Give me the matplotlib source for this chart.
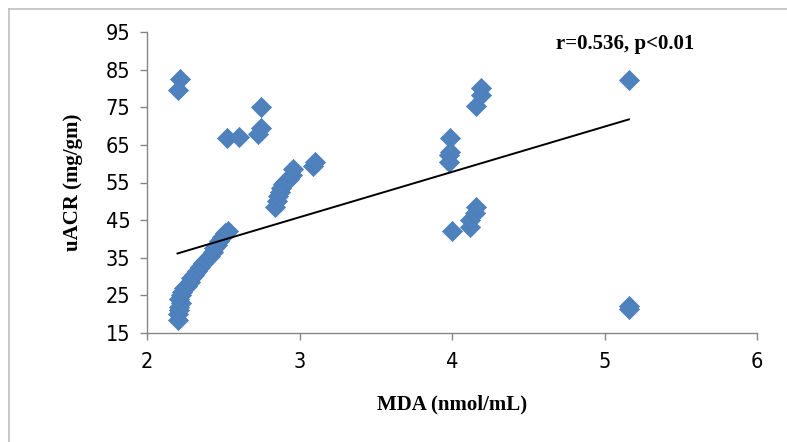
import matplotlib
matplotlib.use("Agg")
import matplotlib.pyplot as plt
from matplotlib.lines import Line2D
import numpy as np

# MDA (x) vs uACR (y)
mda = [
    2.20, 2.20, 2.21, 2.21, 2.22, 2.21, 2.22, 2.23, 2.24, 2.26, 2.28, 2.29, 2.31,
    2.33, 2.35, 2.37, 2.39, 2.41, 2.43, 2.44, 2.46, 2.47, 2.49, 2.51, 2.53,
    2.216, 2.205, 2.525, 2.60, 2.75, 2.75, 2.73,
    2.84, 2.85, 2.86, 2.87, 2.88, 2.89, 2.91, 2.93, 2.95, 2.96, 3.09, 3.10,
    3.99, 3.99, 3.98, 3.98, 4.00,
    4.12, 4.12, 4.15, 4.16, 4.16, 4.19, 4.19,
    5.16, 5.16, 5.16,
]
uacr = [
    18.5, 20.0, 21.0, 22.0, 23.0, 24.0, 25.0, 26.0, 27.0, 27.5, 28.5, 29.5, 30.5,
    31.5, 32.5, 33.5, 34.5, 35.5, 36.5, 37.5, 38.5, 39.5, 40.5, 41.5, 42.0,
    82.5, 79.6, 66.8, 67.2, 75.0, 69.5, 67.8,
    48.5, 50.0, 51.5, 52.5, 53.5, 54.5, 55.5, 56.0, 57.0, 58.5, 59.5, 60.5,
    66.8, 63.2, 62.2, 60.5, 42.2,
    43.2, 45.0, 46.9, 48.5, 75.2, 78.3, 80.0,
    82.3, 22.3, 21.5,
]
# linear trendline as shown in the chart
fit_slope = 12.04
fit_intercept = 9.65

x_ticks = [2, 3, 4, 5, 6]
y_ticks = [15, 25, 35, 45, 55, 65, 75, 85, 95]

fig = plt.figure(figsize=(7.87, 4.42), dpi=100)
ax = fig.add_axes([147 / 787, 1 - 333 / 442, 610 / 787, 301 / 442])

ax.scatter(mda, uacr, marker="D", s=105, color="#4F81BD", edgecolors="#4A7EBB",
           linewidths=0.5, zorder=3)
xs = np.array([min(mda), max(mda)])
ax.plot(xs, fit_slope * xs + fit_intercept, color="black", lw=1.4, zorder=4)

ax.set_xlim(2, 6)
ax.set_ylim(15, 95)
ax.set_xticks(x_ticks)
ax.set_yticks(y_ticks)
for s in ("top", "right"):
    ax.spines[s].set_visible(False)
for s in ("left", "bottom"):
    ax.spines[s].set_color("#868686")
    ax.spines[s].set_linewidth(1.0)
ax.tick_params(axis="both", colors="#868686", length=5, width=1.0, labelcolor="black")
ax.tick_params(axis="y", pad=7)
ax.tick_params(axis="x", pad=9)
for lab in ax.get_xticklabels() + ax.get_yticklabels():
    lab.set_fontfamily("DejaVu Sans")
    lab.set_fontstretch("condensed")
    lab.set_fontsize(15.5)

ax.set_xlabel("MDA (nmol/mL)", fontfamily="Liberation Serif", fontweight="bold",
              fontsize=15, labelpad=16)
ax.set_ylabel("uACR (mg/gm)", fontfamily="Liberation Serif", fontweight="bold",
              fontsize=15, labelpad=16)
fig.text(625 / 787, 1 - 44 / 442, "r=0.536, p<0.01", ha="center", va="center",
         fontfamily="Liberation Serif", fontweight="bold", fontsize=15)

# outer chart-area border
fig.add_artist(Line2D([9 / 787, 9 / 787], [0, 1 - 9 / 442], transform=fig.transFigure,
                      color="#BFBFBF", lw=1.2))
fig.add_artist(Line2D([9 / 787, 1], [1 - 9 / 442, 1 - 9 / 442], transform=fig.transFigure,
                      color="#BFBFBF", lw=1.2))

fig.savefig("out.png", dpi=100)
